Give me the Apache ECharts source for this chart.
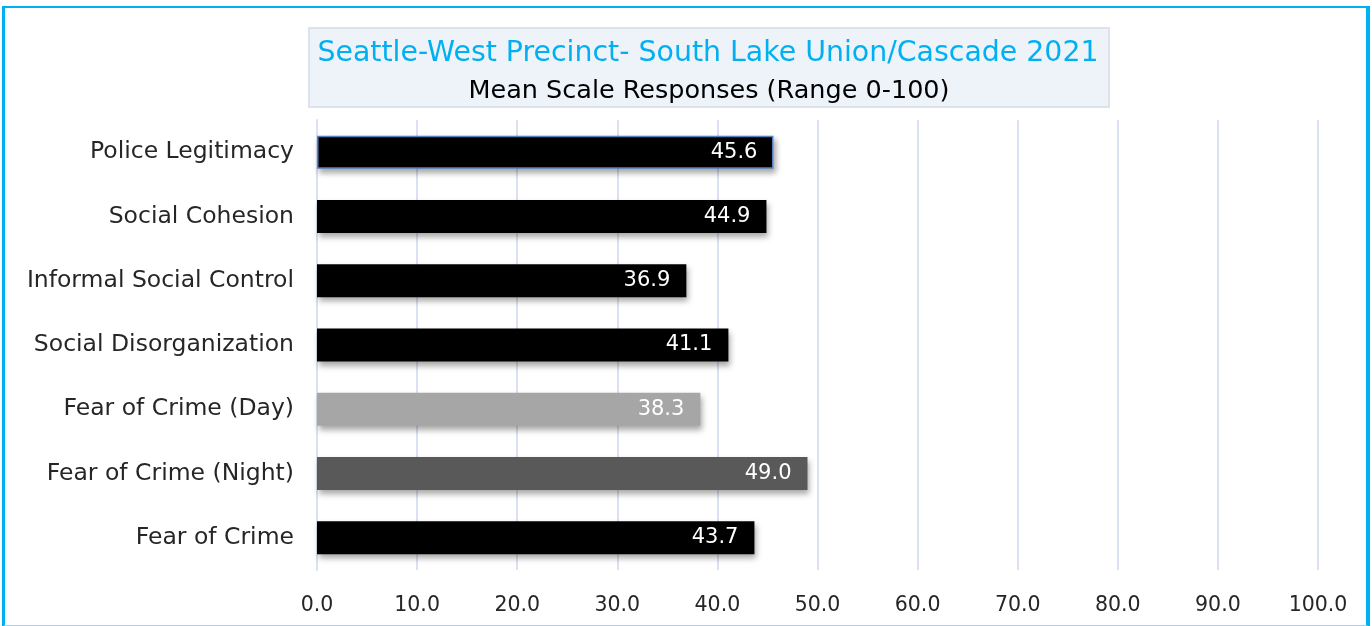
<!DOCTYPE html>
<html><head><meta charset="utf-8">
<script src="https://cdn.jsdelivr.net/npm/echarts@6/dist/echarts.min.js"></script>
<style>
html,body{margin:0;padding:0;background:#fff;}
#frame{position:absolute;left:2px;top:6px;width:1361px;height:617px;border-left:3px solid #00b0f0;border-top:2px solid #00b0f0;border-right:4px solid #00b0f0;border-bottom:2px solid #9ad6f2;box-sizing:content-box;}
#chart{position:absolute;left:0;top:0;width:1372px;height:626px;}
</style></head>
<body>
<div id="frame"></div>
<div id="chart"></div>
<script>
const categories = ['Police Legitimacy','Social Cohesion','Informal Social Control','Social Disorganization','Fear of Crime (Day)','Fear of Crime (Night)','Fear of Crime'];
const values = [45.6, 44.9, 36.9, 41.1, 38.3, 49.0, 43.7];
const barColors = ['#000000','#000000','#000000','#000000','#a6a6a6','#595959','#000000'];
const titleText = 'Seattle-West Precinct- South Lake Union/Cascade 2021';
const subtitleText = 'Mean Scale Responses (Range 0-100)';
const FONT = 'DejaVu Sans';

const chart = echarts.init(document.getElementById('chart'));
const data = values.map((v,i)=>({
  value: v,
  itemStyle: Object.assign({color: barColors[i]}, i===0 ? {borderColor:'#5a7fc0', borderWidth:1.5} : {})
}));
chart.setOption({
  animation:false,
  graphic:[{type:'rect', shape:{x:309,y:28,width:800,height:79}, style:{fill:'#eef3fa', stroke:'#dde3ea', lineWidth:2}, z:0}],
  title:[
    {text:titleText, left:703, top:35, textAlign:'center', textStyle:{fontFamily:FONT, fontSize:28.4, fontWeight:'normal', color:'#00b0f0'}},
    {text:subtitleText, left:704, top:73, textAlign:'center', textStyle:{fontFamily:FONT, fontSize:25.5, fontWeight:'normal', color:'#000'}}
  ],
  grid:{left:317, right:54, top:120, bottom:56, containLabel:false},
  xAxis:{type:'value', min:0, max:100, interval:10,
    axisLine:{show:false}, axisTick:{show:false},
    splitLine:{show:true, lineStyle:{color:'#d9e1f2', width:2}},
    axisLabel:{formatter:v=>v.toFixed(1), fontFamily:FONT, fontSize:20.5, color:'#262626', margin:25}},
  yAxis:{type:'category', data:categories, inverse:true,
    axisLine:{show:true, lineStyle:{color:'#d9e1f2', width:2}}, axisTick:{show:false},
    axisLabel:{fontFamily:FONT, fontSize:23.5, color:'#262626', margin:23}},
  series:[{type:'bar', data:data, barWidth:33,
    itemStyle:{shadowColor:'rgba(0,0,0,0.35)', shadowBlur:6, shadowOffsetX:2, shadowOffsetY:4},
    label:{show:true, position:'insideRight', distance:16, formatter:p=>p.value.toFixed(1), fontFamily:FONT, fontSize:21, color:'#fff'}}]
});
</script>
</body></html>
